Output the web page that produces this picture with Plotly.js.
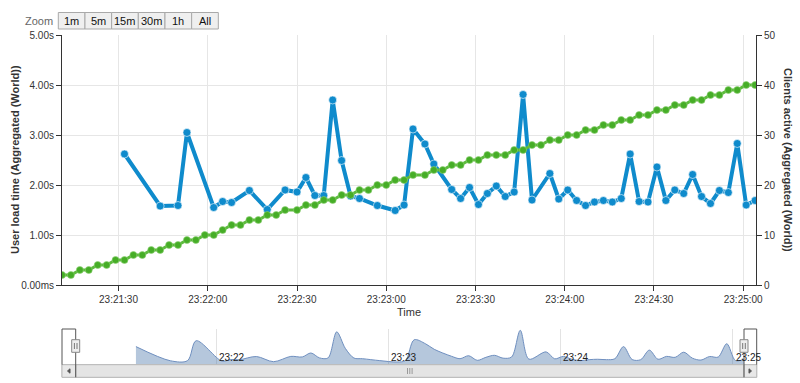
<!DOCTYPE html>
<html>
<head>
<meta charset="utf-8">
<script src="https://cdn.plot.ly/plotly-3.0.1.min.js"></script>
<style>
html,body{margin:0;padding:0;background:#fff;}
#chart{width:800px;height:383px;}
</style>
</head>
<body>
<div id="chart"></div>
<script>
// ---------- data ----------
const day = '2015-01-01 ';
const times = [
 '23:21:11','23:21:14','23:21:17','23:21:20','23:21:23','23:21:26','23:21:29','23:21:32','23:21:35','23:21:38',
 '23:21:41','23:21:44','23:21:47','23:21:50','23:21:53','23:21:56','23:21:59','23:22:02','23:22:05','23:22:08',
 '23:22:11','23:22:14','23:22:17','23:22:20','23:22:23','23:22:26','23:22:30','23:22:33','23:22:36','23:22:39',
 '23:22:42','23:22:45','23:22:48','23:22:51','23:22:54','23:22:57','23:23:00','23:23:03','23:23:06','23:23:09',
 '23:23:13','23:23:16','23:23:19','23:23:22','23:23:25','23:23:28','23:23:31','23:23:34','23:23:37','23:23:40',
 '23:23:43','23:23:46','23:23:49','23:23:52','23:23:55','23:23:58','23:24:01','23:24:04','23:24:07','23:24:10',
 '23:24:13','23:24:16','23:24:19','23:24:22','23:24:25','23:24:28','23:24:31','23:24:34','23:24:37','23:24:40',
 '23:24:43','23:24:46','23:24:49','23:24:52','23:24:55','23:24:58','23:25:01','23:25:04'
];
// User load time (seconds); null = no sample
const loadTime = [
 null,null,null,null,null,null,null,2.62,null,null,
 null,1.58,null,1.59,3.05,null,null,1.55,1.67,1.65,
 null,1.89,null,1.51,null,1.90,1.86,2.15,1.79,1.79,
 3.70,2.49,1.78,1.73,null,1.59,null,1.49,1.60,3.12,
 2.82,2.42,null,1.91,1.73,1.95,1.61,1.83,1.98,1.77,
 1.86,3.81,1.70,null,2.23,1.72,1.90,1.69,1.59,1.66,
 1.69,1.66,1.73,2.62,1.67,1.66,2.36,1.69,1.90,1.83,
 2.21,1.77,1.63,1.89,1.85,2.83,1.60,1.69
];
// Clients active
const clients = [
 2,2,3,3,4,4,5,5,6,6,
 7,7,8,8,9,9,10,10,11,12,
 12,13,13,14,14,15,15,16,16,17,
 17,18,18,19,19,20,20,21,21,22,
 22,23,23,24,24,25,25,26,26,26,
 27,27,28,28,29,29,30,30,31,31,
 32,32,33,33,34,34,35,35,36,36,
 37,37,38,38,39,39,40,40
];
const xTicks = ['23:21:30','23:22:00','23:22:30','23:23:00','23:23:30','23:24:00','23:24:30','23:25:00'];
const leftTickVals = [0,1,2,3,4,5];
const leftTickText = ['0.00ms','1.00s','2.00s','3.00s','4.00s','5.00s'];
const rightTickVals = [0,10,20,30,40,50];
const navTicks = ['23:22','23:23','23:24','23:25'];
const zoomButtons = ['1m','5m','15m','30m','1h','All'];

// ---------- helpers (pixel -> paper) ----------
const L = 62, R = 756, T = 35, B = 377;
const px = x => (x - L) / (R - L);
const py = y => (B - y) / (B - T);
const X = times.map(t => day + t);
const FONT = 'Liberation Sans, Arial, sans-serif';

const traces = [
  {
    x: X, y: loadTime, type: 'scatter', mode: 'lines+markers',
    connectgaps: true, xaxis: 'x', yaxis: 'y',
    line: {color: '#0f8bcc', width: 4},
    marker: {color: '#0f8bcc', size: 8, line: {color: '#ffffff', width: 0.6}},
    hoverinfo: 'x+y'
  },
  {
    x: X, y: clients, type: 'scatter', mode: 'lines+markers',
    xaxis: 'x', yaxis: 'y2',
    line: {color: '#5cbb3c', width: 3},
    marker: {color: '#46ad27', size: 7, line: {color: '#8fd276', width: 0.6}},
    hoverinfo: 'x+y'
  },
  {
    x: X, y: loadTime, type: 'scatter', mode: 'lines',
    connectgaps: true, xaxis: 'x2', yaxis: 'y3',
    line: {color: '#6f8fbf', width: 1, shape: 'spline', smoothing: 0.9},
    fill: 'tozeroy', fillcolor: 'rgba(69,114,167,0.40)',
    hoverinfo: 'skip'
  }
];

// ---------- decorations ----------
const shapes = [];
const annotations = [];
function rect(x0, y0, x1, y1, fill, line, lw) {
  shapes.push({type: 'rect', xref: 'paper', yref: 'paper',
    x0: px(x0), x1: px(x1), y0: py(y1), y1: py(y0),
    fillcolor: fill, line: {color: line, width: lw === undefined ? 1 : lw}, layer: 'above'});
}
function path(pts, color, w, fill) {
  let d = pts.map((p, i) => (i ? 'L' : 'M') + px(p[0]) + ',' + py(p[1])).join(' ');
  if (fill) d += ' Z';
  shapes.push({type: 'path', xref: 'paper', yref: 'paper', path: d,
    line: {color: color, width: w}, fillcolor: fill || 'rgba(0,0,0,0)', layer: 'above'});
}

// range selector
annotations.push({xref: 'paper', yref: 'paper', x: px(39), y: py(21), text: 'Zoom',
  showarrow: false, font: {family: FONT, size: 11, color: '#666'}, xanchor: 'center', yanchor: 'middle'});
const bw = 26.67, bx0 = 58.3;
zoomButtons.forEach((b, i) => {
  rect(bx0 + i * bw, 12.5, bx0 + (i + 1) * bw, 29, '#efefef', '#a9a9a9', 1);
  annotations.push({xref: 'paper', yref: 'paper', x: px(bx0 + (i + 0.5) * bw), y: py(21),
    text: b, showarrow: false, font: {family: FONT, size: 11, color: '#111'},
    xanchor: 'center', yanchor: 'middle'});
});

// navigator scrollbar
rect(62, 364.7, 756.7, 377.3, '#eeeeee', '#bbbbbb', 1);
rect(75.7, 364.7, 744, 377.3, '#e4e4e4', '#bbbbbb', 1);
rect(62, 364.7, 75.7, 377.3, '#e8e8e8', '#bbbbbb', 1);
rect(744, 364.7, 756.7, 377.3, '#e8e8e8', '#bbbbbb', 1);
path([[67.5, 371], [70, 368.8], [70, 373.2]], '#555', 1, '#555');
path([[751.5, 371], [749, 368.8], [749, 373.2]], '#555', 1, '#555');
[407.5, 409.8, 412.1].forEach(x => path([[x, 368], [x, 374]], '#999', 1));

// navigator outline
path([[62, 364.7], [62, 329], [75.7, 329], [75.7, 377.3]], '#555', 1);
path([[744, 377.3], [744, 329], [756.7, 329], [756.7, 364.7]], '#555', 1);
// handles
[75.7, 744].forEach(cx => {
  rect(cx - 4, 339.7, cx + 4, 352.3, '#eeeeee', '#888888', 1);
  path([[cx - 1.3, 343], [cx - 1.3, 349]], '#777', 1);
  path([[cx + 1.3, 343], [cx + 1.3, 349]], '#777', 1);
});

// navigator labels
navTicks.forEach(t => annotations.push({xref: 'x2', yref: 'paper', x: day + t + ':00', y: py(357),
  text: t, showarrow: false, xanchor: 'left', yanchor: 'middle', xshift: 1,
  font: {family: FONT, size: 10, color: '#222'}}));

// axis titles
annotations.push({xref: 'paper', yref: 'paper', x: px(409), y: py(312), text: 'Time',
  showarrow: false, font: {family: FONT, size: 11, color: '#333'}, xanchor: 'center', yanchor: 'middle'});
annotations.push({xref: 'paper', yref: 'paper', x: px(15), y: py(160),
  text: '<b>User load time (Aggregated (World))</b>', textangle: -90,
  showarrow: false, font: {family: FONT, size: 11, color: '#333'}, xanchor: 'center', yanchor: 'middle'});
annotations.push({xref: 'paper', yref: 'paper', x: px(788), y: py(160),
  text: '<b>Clients active (Aggregated (World))</b>', textangle: 90,
  showarrow: false, font: {family: FONT, size: 11, color: '#333'}, xanchor: 'center', yanchor: 'middle'});

const tickFont = {family: FONT, size: 10, color: '#333'};
const layout = {
  width: 800, height: 383,
  margin: {l: L, r: 800 - R, t: T, b: 383 - B, pad: 0},
  paper_bgcolor: '#fff', plot_bgcolor: '#fff',
  showlegend: false,
  xaxis: {
    type: 'date', domain: [0, 1], anchor: 'y',
    range: [day + '23:21:11', day + '23:25:04.3'],
    tickvals: xTicks.map(t => day + t), ticktext: xTicks,
    showgrid: true, gridcolor: '#e6e6e6', gridwidth: 1,
    showline: true, linecolor: '#333', linewidth: 1,
    ticks: 'outside', ticklen: 5, tickcolor: '#333',
    tickfont: tickFont, zeroline: false, fixedrange: true
  },
  yaxis: {
    domain: [py(285), 1], anchor: 'x', range: [0, 5],
    tickvals: leftTickVals, ticktext: leftTickText,
    showgrid: true, gridcolor: '#e6e6e6', gridwidth: 1,
    showline: true, linecolor: '#333', linewidth: 1,
    ticks: 'outside', ticklen: 5, tickcolor: '#333',
    tickfont: tickFont, zeroline: false, fixedrange: true
  },
  yaxis2: {
    overlaying: 'y', side: 'right', anchor: 'x', range: [0, 50],
    tickvals: rightTickVals,
    showgrid: false, showline: true, linecolor: '#333', linewidth: 1,
    ticks: 'outside', ticklen: 5, tickcolor: '#333',
    tickfont: tickFont, zeroline: false, fixedrange: true
  },
  xaxis2: {
    type: 'date', domain: [px(75.7), px(744)], anchor: 'y3',
    range: [X[0], X[X.length - 1]],
    tick0: day + '23:21:00', dtick: 60000,
    showgrid: true, gridcolor: '#e3e3e3', gridwidth: 1,
    showticklabels: false, ticks: '', showline: false, zeroline: false, fixedrange: true
  },
  yaxis3: {
    domain: [py(364.7), py(329)], anchor: 'x2', range: [1.29, 3.91],
    showgrid: false, showticklabels: false, ticks: '', showline: false, zeroline: false, fixedrange: true
  },
  shapes: shapes,
  annotations: annotations
};

Plotly.newPlot('chart', traces, layout, {displayModeBar: false, staticPlot: true});
</script>
</body>
</html>
